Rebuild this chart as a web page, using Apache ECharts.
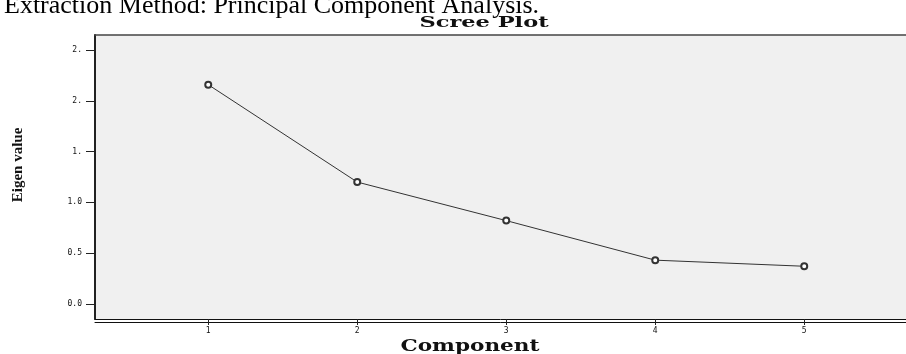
<!DOCTYPE html>
<html>
<head>
<meta charset="utf-8">
<script src="https://cdn.jsdelivr.net/npm/echarts@6/dist/echarts.min.js"></script>
<style>
html, body { margin: 0; padding: 0; background: #fff; }
#main { width: 906px; height: 354px; }
</style>
</head>
<body>
<div id="main"></div>
<script>
// scree plot values
var components = [1, 2, 3, 4, 5];
var eigenValues = [2.16, 1.20, 0.82, 0.43, 0.37];
var yTickValues = [0, 0.5, 1, 1.5, 2, 2.5];
var yTickLabels = ['0.0', '0.5', '1.0', '1.', '2.', '2.'];

var xMin = 0.24, xMax = 5.683;

var myChart = echarts.init(document.getElementById('main'));
myChart.setOption({
    animation: false,
    grid: {
        left: 95, top: 35, right: 0, height: 284,
        show: true, backgroundColor: '#f0f0f0', borderWidth: 0
    },
    xAxis: [{
        type: 'value', min: xMin, max: xMax, position: 'bottom',
        axisLine: { show: true, onZero: false, lineStyle: { color: '#111', width: 1 } },
        axisTick: { show: true, customValues: components, length: 6, lineStyle: { color: '#222' } },
        axisLabel: {
            customValues: components, margin: 8, fontSize: 8,
            color: '#111', fontFamily: 'DejaVu Sans Mono'
        },
        splitLine: { show: false }
    }, {
        // second line of the double bottom border
        type: 'value', min: xMin, max: xMax, position: 'bottom', offset: 3,
        axisLine: { show: true, onZero: false, lineStyle: { color: '#111', width: 1 } },
        axisTick: { show: false }, axisLabel: { show: false }, splitLine: { show: false }
    }, {
        type: 'value', min: xMin, max: xMax, position: 'top',
        axisLine: { show: true, onZero: false, lineStyle: { color: '#444', width: 1.5 } },
        axisTick: { show: false }, axisLabel: { show: false }, splitLine: { show: false }
    }],
    yAxis: {
        type: 'value', min: -0.15, max: 2.65,
        axisLine: { show: true, onZero: false, lineStyle: { color: '#222', width: 2 } },
        axisTick: { show: true, customValues: yTickValues, length: 9, lineStyle: { color: '#222' } },
        axisLabel: {
            customValues: yTickValues, margin: 13, fontSize: 8,
            color: '#111', fontFamily: 'DejaVu Sans Mono',
            formatter: function (v) {
                return yTickLabels[yTickValues.indexOf(v)];
            }
        },
        splitLine: { show: false }
    },
    graphic: [{
        type: 'text', x: 4, y: 6,
        style: {
            text: 'Extraction Method: Principal Component Analysis.',
            font: '26px "Liberation Serif"', fill: '#000',
            textAlign: 'left', textVerticalAlign: 'middle'
        }
    }, {
        // SPSS draws these two wide, stretch them a bit
        type: 'text', x: 484, y: 23, scaleX: 1.5,
        style: {
            text: 'Scree Plot', font: 'bold 15px "DejaVu Serif"', fill: '#111',
            textAlign: 'center', textVerticalAlign: 'middle'
        }
    }, {
        type: 'text', x: 470, y: 347, scaleX: 1.35,
        style: {
            text: 'Component', font: 'bold 16px "DejaVu Serif"', fill: '#111',
            textAlign: 'center', textVerticalAlign: 'middle'
        }
    }, {
        type: 'text', x: 18, y: 165, rotation: Math.PI / 2,
        style: {
            text: 'Eigen value', font: 'bold 15px "Liberation Serif"', fill: '#111',
            textAlign: 'center', textVerticalAlign: 'middle'
        }
    }],
    series: [{
        type: 'line',
        xAxisIndex: 0,
        yAxisIndex: 0,
        data: components.map(function (c, i) { return [c, eigenValues[i]]; }),
        symbol: 'emptyCircle',
        symbolSize: 6,
        lineStyle: { color: '#333', width: 1 },
        itemStyle: { color: '#333', borderColor: '#222', borderWidth: 1.5 }
    }]
});
</script>
</body>
</html>
